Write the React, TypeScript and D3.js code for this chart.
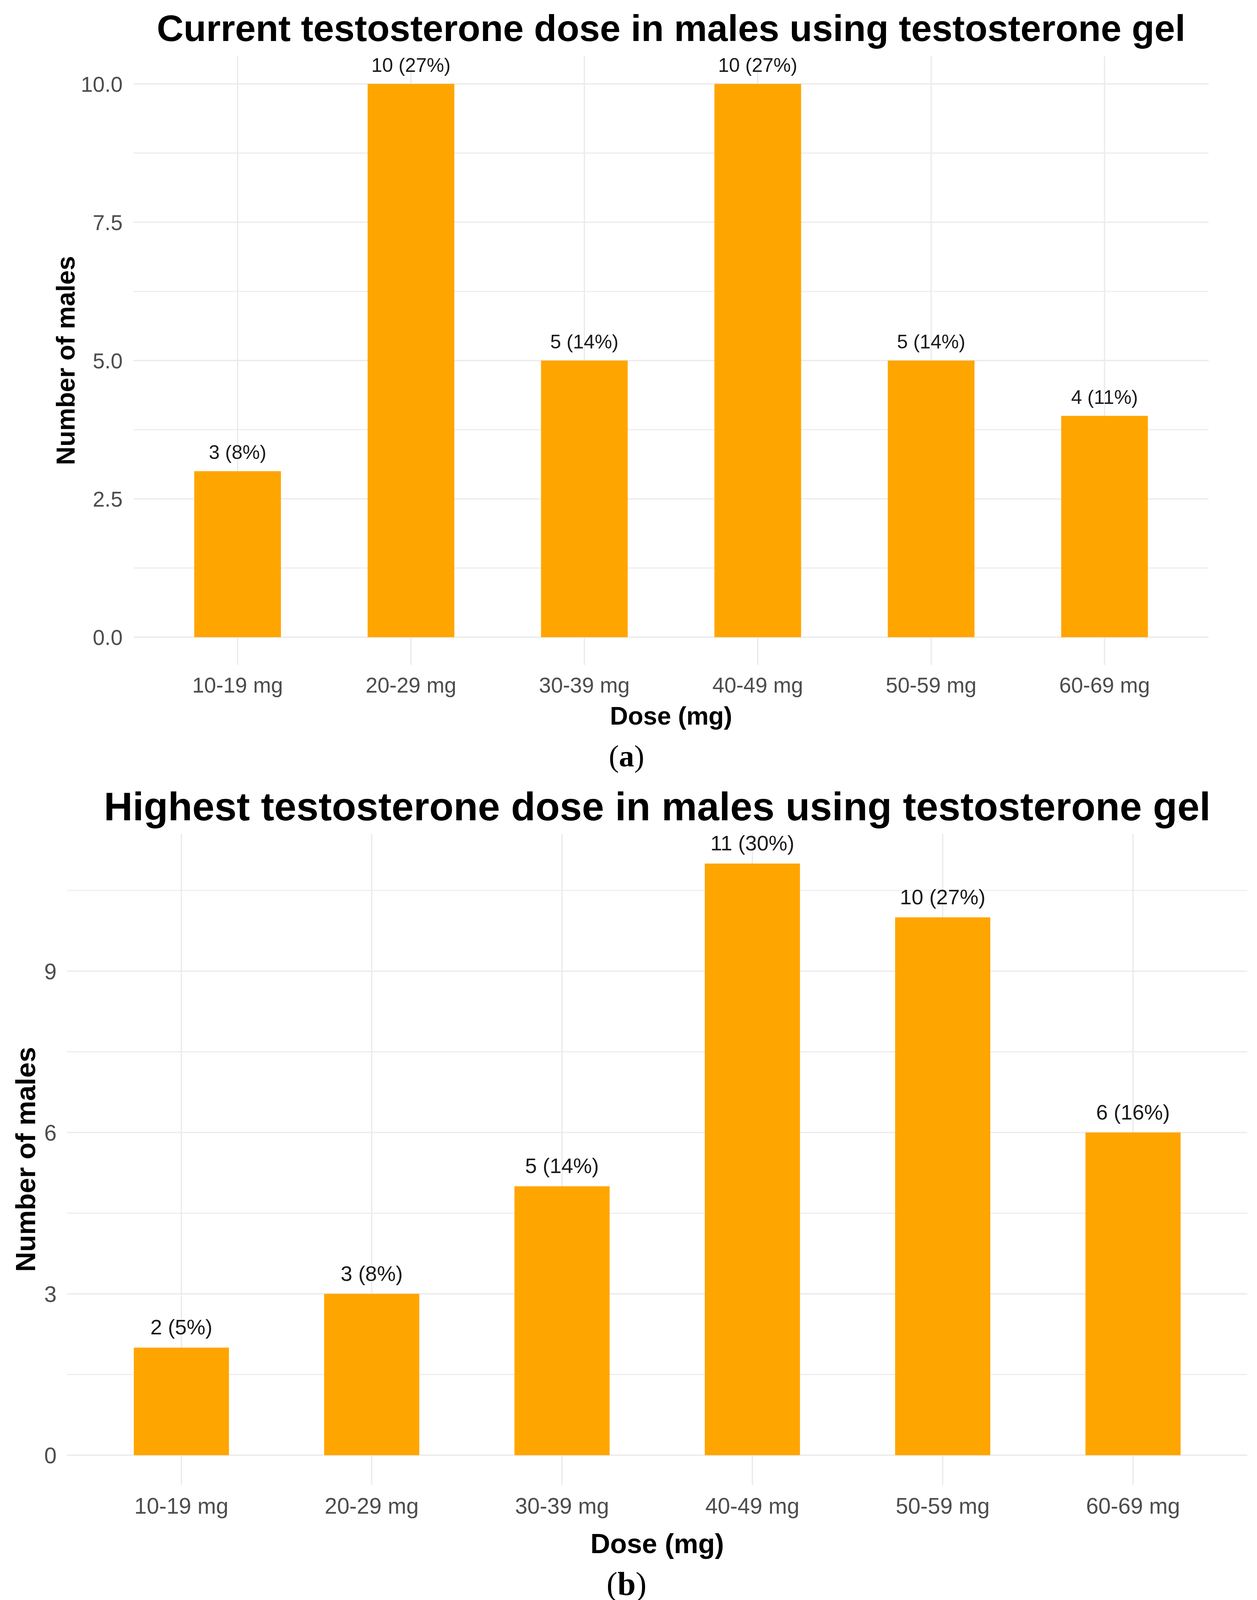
import { useEffect, useRef } from "react";
import * as d3 from "d3";

// dose bands shared by both panels
const doseBands = ["10-19 mg", "20-29 mg", "30-39 mg", "40-49 mg", "50-59 mg", "60-69 mg"];

// (a) current dose
const currentCounts = [3, 10, 5, 10, 5, 4];
const currentPct = [8, 27, 14, 27, 14, 11];
const currentTicks = [0, 2.5, 5, 7.5, 10];

// (b) highest dose
const highestCounts = [2, 3, 5, 11, 10, 6];
const highestPct = [5, 8, 14, 30, 27, 16];
const highestTicks = [0, 3, 6, 9];

const W = 3219;
const H = 4109;
const SANS = "'Liberation Sans', Arial, Helvetica, sans-serif";
const SERIF = "'Liberation Serif', 'Times New Roman', serif";

type Panel = {
  title: string;
  counts: number[];
  pct: number[];
  ticks: number[];
  tickFmt: (d: number) => string;
  caption: string;
  box: { left: number; right: number; top: number; bottom: number };
  titleY: number; titleSize: number;
  yTitleX: number; yTitleSize: number;
  tickSize: number; labelSize: number;
  xTickY: number; xTitleY: number; xTitleSize: number;
  yTickX: number;
  capY: number; capSize: number;
};

const panels: Panel[] = [
  {
    title: "Current testosterone dose in males using testosterone gel",
    counts: currentCounts, pct: currentPct, ticks: currentTicks,
    tickFmt: d3.format(".1f"), caption: "a",
    box: { left: 342, right: 3095, top: 144, bottom: 1702 },
    titleY: 105, titleSize: 95,
    yTitleX: 191, yTitleSize: 66,
    tickSize: 55, labelSize: 50,
    xTickY: 1773, xTitleY: 1855, xTitleSize: 64,
    yTickX: 314,
    capY: 1962, capSize: 78,
  },
  {
    title: "Highest testosterone dose in males using testosterone gel",
    counts: highestCounts, pct: highestPct, ticks: highestTicks,
    tickFmt: d3.format("d"), caption: "b",
    box: { left: 172, right: 3194, top: 2135, bottom: 3801 },
    titleY: 2100, titleSize: 102,
    yTitleX: 90, yTitleSize: 71,
    tickSize: 57, labelSize: 54,
    xTickY: 3875, xTitleY: 3976, xTitleSize: 70,
    yTickX: 145,
    capY: 4083, capSize: 84,
  },
];

function drawPanel(svg: d3.Selection<SVGSVGElement, unknown, null, undefined>, p: Panel) {
  const { left, right, top, bottom } = p.box;
  const g = svg.append("g");

  const x = d3.scaleBand<string>()
    .domain(doseBands)
    .range([left, right])
    .paddingInner(0.5)
    .paddingOuter(0.35);

  const ymax = d3.max(p.counts) as number;
  const y = d3.scaleLinear()
    .domain([-0.05 * ymax, ymax * 1.05])
    .range([bottom, top]);

  // minor grid: midpoints between major ticks
  const step = p.ticks[1] - p.ticks[0];
  const minor = d3.range(p.ticks.length)
    .map(i => p.ticks[0] + step * (i + 0.5))
    .filter(v => v < y.domain()[1]);

  g.append("g").selectAll("line").data(minor).join("line")
    .attr("x1", left).attr("x2", right)
    .attr("y1", d => y(d)).attr("y2", d => y(d))
    .attr("stroke", "#ebebeb").attr("stroke-width", 2.6);

  g.append("g").selectAll("line").data(p.ticks).join("line")
    .attr("x1", left).attr("x2", right)
    .attr("y1", d => y(d)).attr("y2", d => y(d))
    .attr("stroke", "#ebebeb").attr("stroke-width", 3.4);

  g.append("g").selectAll("line").data(doseBands).join("line")
    .attr("x1", d => (x(d) as number) + x.bandwidth() / 2)
    .attr("x2", d => (x(d) as number) + x.bandwidth() / 2)
    .attr("y1", top).attr("y2", bottom)
    .attr("stroke", "#ebebeb").attr("stroke-width", 3.4);

  // bars
  g.append("g").selectAll("rect").data(p.counts).join("rect")
    .attr("x", (d, i) => x(doseBands[i]) as number)
    .attr("width", x.bandwidth())
    .attr("y", d => y(d))
    .attr("height", d => y(0) - y(d))
    .attr("fill", "#FFA500");

  // bar labels
  g.append("g").selectAll("text").data(p.counts).join("text")
    .attr("x", (d, i) => (x(doseBands[i]) as number) + x.bandwidth() / 2)
    .attr("y", d => y(d) - p.labelSize * 0.62)
    .attr("text-anchor", "middle")
    .attr("font-family", SANS)
    .attr("font-size", p.labelSize)
    .attr("fill", "#1a1a1a")
    .text((d, i) => `${d} (${p.pct[i]}%)`);

  // y tick labels
  g.append("g").selectAll("text").data(p.ticks).join("text")
    .attr("x", p.yTickX)
    .attr("y", d => y(d) + p.tickSize * 0.36)
    .attr("text-anchor", "end")
    .attr("font-family", SANS)
    .attr("font-size", p.tickSize)
    .attr("fill", "#4d4d4d")
    .text(d => p.tickFmt(d));

  // x tick labels
  g.append("g").selectAll("text").data(doseBands).join("text")
    .attr("x", d => (x(d) as number) + x.bandwidth() / 2)
    .attr("y", p.xTickY)
    .attr("text-anchor", "middle")
    .attr("font-family", SANS)
    .attr("font-size", p.tickSize)
    .attr("fill", "#4d4d4d")
    .text(d => d);

  const cx = (left + right) / 2;
  const cy = (top + bottom) / 2;

  // titles
  g.append("text")
    .attr("x", cx).attr("y", p.titleY)
    .attr("text-anchor", "middle")
    .attr("font-family", SANS).attr("font-weight", "bold")
    .attr("font-size", p.titleSize).attr("fill", "#000")
    .text(p.title);

  g.append("text")
    .attr("x", cx).attr("y", p.xTitleY)
    .attr("text-anchor", "middle")
    .attr("font-family", SANS).attr("font-weight", "bold")
    .attr("font-size", p.xTitleSize).attr("fill", "#000")
    .text("Dose (mg)");

  g.append("text")
    .attr("transform", `translate(${p.yTitleX},${cy}) rotate(-90)`)
    .attr("text-anchor", "middle")
    .attr("font-family", SANS).attr("font-weight", "bold")
    .attr("font-size", p.yTitleSize).attr("fill", "#000")
    .text("Number of males");

  // sub-figure caption
  const cap = svg.append("text")
    .attr("x", W / 2 - 5).attr("y", p.capY)
    .attr("text-anchor", "middle")
    .attr("font-family", SERIF)
    .attr("font-size", p.capSize).attr("fill", "#000");
  cap.append("tspan").text("(");
  cap.append("tspan").attr("font-weight", "bold").text(p.caption);
  cap.append("tspan").text(")");
}

export default function App() {
  const ref = useRef<SVGSVGElement>(null);

  useEffect(() => {
    if (!ref.current) return;
    const svg = d3.select(ref.current);
    svg.selectAll("*").remove();

    svg.append("rect").attr("width", W).attr("height", H).attr("fill", "#fff");
    panels.forEach(p => drawPanel(svg, p));
  }, []);

  return (
    <svg
      ref={ref}
      width={W}
      height={H}
      viewBox={`0 0 ${W} ${H}`}
      style={{ position: "absolute", left: 0, top: 0, display: "block" }}
    />
  );
}
